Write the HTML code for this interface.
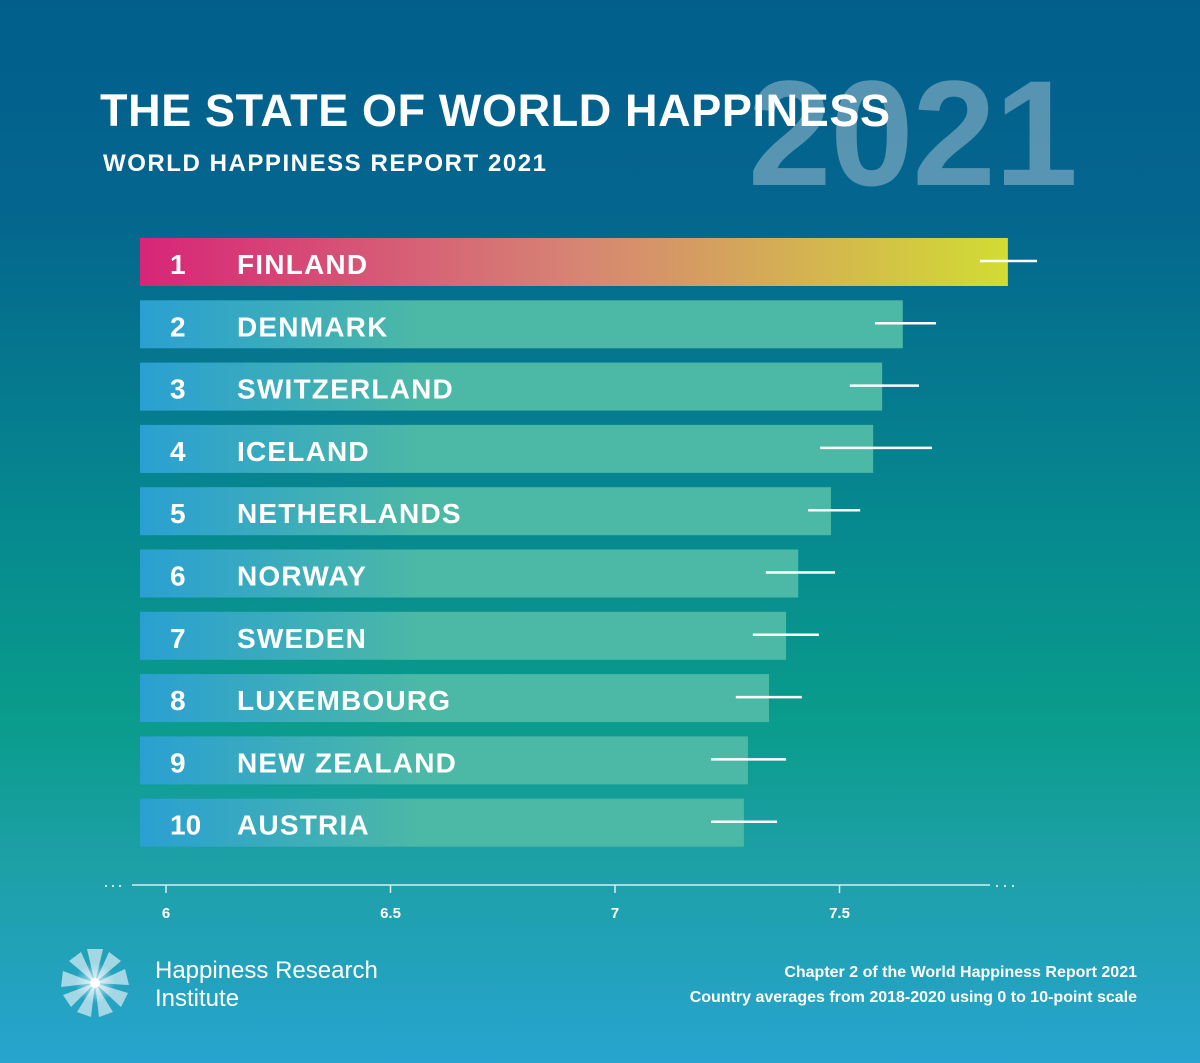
<!DOCTYPE html>
<html><head><meta charset="utf-8"><style>
body{margin:0;width:1200px;height:1063px;overflow:hidden;font-family:"Liberation Sans",sans-serif}
#bg{position:absolute;left:0;top:0;width:1200px;height:1063px;background:linear-gradient(180deg,#025f8c 0%,#04668e 20%,#068a8f 50%,#0a9c8c 68%,#1ea0a8 82%,#27a4cf 100%)}
svg{position:absolute;left:0;top:0}
</style></head><body>
<div id="bg"></div>
<svg width="1200" height="1063" id="chart">
<defs>
<linearGradient id="gf" x1="0" x2="1"><stop offset="0" stop-color="#d72578"/><stop offset="0.5" stop-color="#d68474"/><stop offset="1" stop-color="#d2dc33"/></linearGradient>
<linearGradient id="gt" gradientUnits="userSpaceOnUse" x1="140" x2="420"><stop offset="0" stop-color="#2aa0d2"/><stop offset="1" stop-color="#4cb8a6"/></linearGradient>
<radialGradient id="lg"><stop offset="0" stop-color="#fff"/><stop offset="0.25" stop-color="#fff" stop-opacity="0.6"/><stop offset="1" stop-color="#fff" stop-opacity="0"/></radialGradient>
</defs>
<text x="748" y="185" font-size="150" font-weight="bold" fill="#8fb6cc" fill-opacity="0.6" textLength="330">2021</text>
<text x="100" y="126" font-size="45" font-weight="bold" fill="#fff" textLength="790">THE STATE OF WORLD HAPPINESS</text>
<text x="103" y="171" font-size="24" font-weight="bold" fill="#fff" textLength="443">WORLD HAPPINESS REPORT 2021</text>
<g id="bars"></g>
<g id="axis"></g>
<g transform="translate(95,983)">
<g fill="#cfe9f2" opacity="0.75">
<polygon points="0,0 -8,-34 8,-34"/><polygon points="0,0 14,-31 26,-22"/><polygon points="0,0 30,-14 34,2"/>
<polygon points="0,0 33,10 26,24"/><polygon points="0,0 18,29 4,34"/><polygon points="0,0 -4,34 -18,29"/>
<polygon points="0,0 -24,24 -32,12"/><polygon points="0,0 -34,4 -32,-12"/><polygon points="0,0 -26,-22 -14,-31"/>
</g>
<circle r="20" fill="url(#lg)"/>
<circle r="5" fill="#fff"/>
</g>
<text x="155" y="978" font-size="24" fill="#fff">Happiness Research</text>
<text x="155" y="1006" font-size="24" fill="#fff">Institute</text>
<text x="1137" y="977" font-size="16" font-weight="bold" fill="#fff" text-anchor="end">Chapter 2 of the World Happiness Report 2021</text>
<text x="1137" y="1002" font-size="16" font-weight="bold" fill="#fff" text-anchor="end">Country averages from 2018-2020 using 0 to 10-point scale</text>
</svg>
<script>
const countries=["FINLAND","DENMARK","SWITZERLAND","ICELAND","NETHERLANDS","NORWAY","SWEDEN","LUXEMBOURG","NEW ZEALAND","AUSTRIA"];
const scores=[7.875,7.641,7.595,7.575,7.481,7.408,7.381,7.343,7.296,7.287];
const lowCI=[7.813,7.579,7.523,7.457,7.430,7.336,7.307,7.269,7.214,7.214];
const highCI=[7.940,7.715,7.677,7.706,7.546,7.490,7.454,7.416,7.381,7.361];
const ticks=[6,6.5,7,7.5];
const tickLabels=["6","6.5","7","7.5"];
const NS="http://www.w3.org/2000/svg";
const x=v=>166+(v-6)*449;
const y=i=>238+i*62.3;
function mk(t,a,p){const e=document.createElementNS(NS,t);for(const k in a)e.setAttribute(k,a[k]);p.appendChild(e);return e;}
const bars=document.getElementById('bars');
countries.forEach((c,i)=>{
  const r=mk('rect',{x:140,y:y(i),width:x(scores[i])-140,height:48,fill:i===0?'url(#gf)':'url(#gt)'},bars);
  
  
  const n=mk('text',{x:170,y:y(i)+36,'font-size':28,'font-weight':'bold',fill:'#fff'},bars);
  n.textContent=String(i+1);
  
  
  const t=mk('text',{x:237,y:y(i)+36,'font-size':28,'font-weight':'bold',fill:'#fff','letter-spacing':'1.2'},bars);
  t.textContent=c;
  
  
  const l=mk('line',{x1:x(lowCI[i]),x2:x(highCI[i]),y1:y(i)+23,y2:y(i)+23,stroke:'#fff','stroke-width':2.5},bars);
  
  
});
const ax=document.getElementById('axis');
const al=mk('line',{x1:132,x2:990,y1:885,y2:885,stroke:'#d8eef2','stroke-width':1.5},ax);


[106,113,120,997,1005,1013].forEach(d=>mk('circle',{cx:d,cy:886,r:1,fill:'#fff'},ax));
ticks.forEach((v,i)=>{
  mk('line',{x1:x(v),x2:x(v),y1:885,y2:893,stroke:'#d8eef2','stroke-width':1.5},ax);
  const t=mk('text',{x:x(v),y:918,'font-size':15,'font-weight':'bold',fill:'#fff','text-anchor':'middle'},ax);
  t.textContent=tickLabels[i];
  
  
});
</script>
</body></html>
